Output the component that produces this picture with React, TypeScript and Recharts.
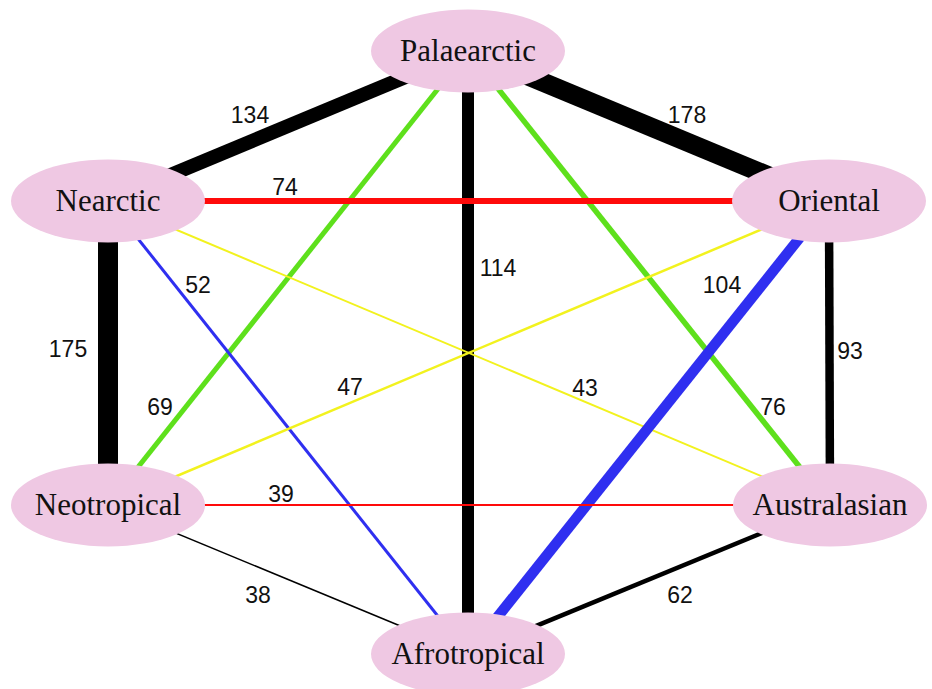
import React from 'react';
import { ScatterChart, Scatter, XAxis, YAxis } from 'recharts';

// Biogeographic regions (nodes) and their layout positions
const regions = ['Palaearctic', 'Nearctic', 'Oriental', 'Neotropical', 'Australasian', 'Afrotropical'];
const regionX = [468, 108, 829, 108, 830, 468];
const regionY = [51, 201, 201, 505, 505, 654];

// Links between regions and their shared counts
const edgeFrom = ['Palaearctic', 'Palaearctic', 'Palaearctic', 'Palaearctic', 'Palaearctic', 'Nearctic', 'Nearctic', 'Nearctic', 'Nearctic', 'Oriental', 'Oriental', 'Oriental', 'Neotropical', 'Neotropical', 'Australasian'];
const edgeTo = ['Nearctic', 'Oriental', 'Afrotropical', 'Neotropical', 'Australasian', 'Oriental', 'Neotropical', 'Afrotropical', 'Australasian', 'Neotropical', 'Australasian', 'Afrotropical', 'Australasian', 'Afrotropical', 'Afrotropical'];
const edgeValues = [134, 178, 114, 69, 76, 74, 175, 52, 43, 47, 93, 104, 39, 38, 62];

// Label placement for each link value
const labelX = [250, 687, 498, 160, 773, 285, 68, 198, 585, 350, 850, 722, 281, 258, 680];
const labelY = [114, 114, 267, 406, 406, 186, 348, 284, 387, 386, 350, 284, 493, 594, 594];

// Styles (colour / width) per link
const edgeColors = ['#000000', '#000000', '#000000', '#5ee01c', '#5ee01c', '#ff0a0a', '#000000', '#2f2ff0', '#f2f21e', '#f2f21e', '#000000', '#2f2ff0', '#ff0a0a', '#000000', '#000000'];
const edgeWidths = [14, 19, 12, 5, 5.5, 6, 20, 3, 2, 2.5, 8.5, 10.5, 2, 1.5, 4.5];

const W = 932;
const H = 689;

const nodeData = regions.map((name, i) => ({ name, x: regionX[i], y: regionY[i] }));
const posOf = (name: string) => {
  const i = regions.indexOf(name);
  return { x: regionX[i], y: regionY[i] };
};
const edges = edgeFrom.map((f, i) => ({
  data: [posOf(f), posOf(edgeTo[i])],
  color: edgeColors[i],
  width: edgeWidths[i],
}));
const labelData = edgeValues.map((v, i) => ({ value: v, x: labelX[i], y: labelY[i] }));

const Empty = () => <g />;

const NodeShape = (props: any) => {
  const { cx, cy, payload } = props;
  return (
    <g>
      <ellipse cx={cx} cy={cy} rx={97} ry={41.5} fill="#efc8e3" />
      <text
        x={cx}
        y={cy + 10}
        textAnchor="middle"
        fontFamily="'Liberation Serif', 'Times New Roman', serif"
        fontSize={31}
        fill="#111"
      >
        {payload.name}
      </text>
    </g>
  );
};

const LabelShape = (props: any) => {
  const { cx, cy, payload } = props;
  return (
    <text
      x={cx}
      y={cy + 8.5}
      textAnchor="middle"
      fontFamily="'Liberation Sans', Arial, sans-serif"
      fontSize={23}
      fill="#111"
    >
      {payload.value}
    </text>
  );
};

export default function App() {
  return (
    <div style={{ position: 'absolute', left: 0, top: 0, width: W, height: H, background: '#fff' }}>
      <ScatterChart width={W} height={H} margin={{ top: 0, right: 0, bottom: 0, left: 0 }}>
        <XAxis type="number" dataKey="x" domain={[0, W]} hide allowDataOverflow />
        <YAxis type="number" dataKey="y" domain={[0, H]} reversed hide allowDataOverflow />
        {edges.map((e, i) => (
          <Scatter
            key={'e' + i}
            data={e.data}
            line={{ stroke: e.color, strokeWidth: e.width }}
            fill={e.color}
            shape={<Empty />}
            isAnimationActive={false}
          />
        ))}
        <Scatter data={nodeData} shape={<NodeShape />} isAnimationActive={false} />
        <Scatter data={labelData} shape={<LabelShape />} isAnimationActive={false} />
      </ScatterChart>
    </div>
  );
}
